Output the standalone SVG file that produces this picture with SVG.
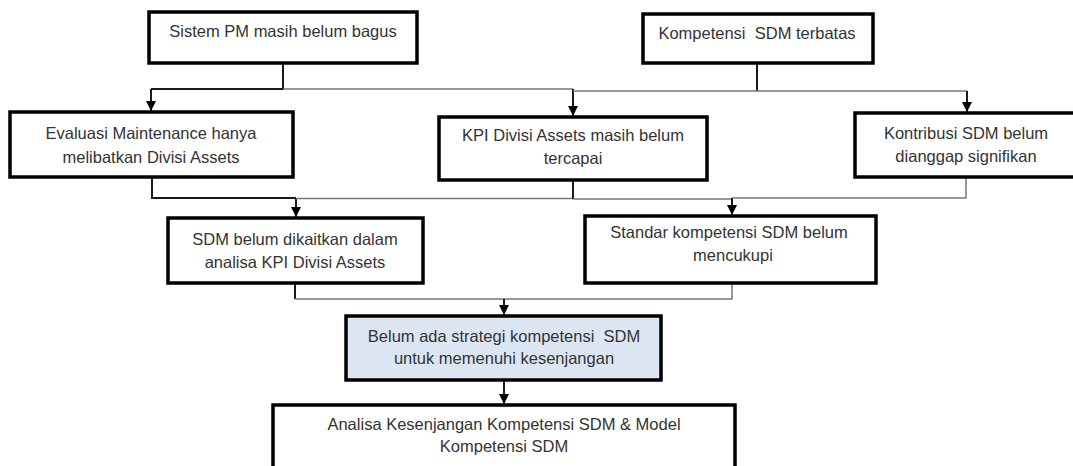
<svg xmlns="http://www.w3.org/2000/svg" width="1073" height="466" viewBox="0 0 1073 466">
<style>
.box{fill:#ffffff;stroke:#000000;stroke-width:3.5}
.hl{fill:#dce6f2}
.t{font-family:"Liberation Sans",Arial,sans-serif;font-size:16.5px;fill:#333333;text-anchor:middle;white-space:pre}
.c{fill:none;stroke:#1a1a1a;stroke-width:2}
.g{fill:none;stroke:#777777;stroke-width:1.5}
</style>
<defs>
<marker id="a" viewBox="0 0 10 10" refX="10" refY="5" markerWidth="11" markerHeight="10" orient="auto" markerUnits="userSpaceOnUse">
<path d="M0,0 L10,5 L0,10 Z" fill="#000"/>
</marker>
</defs>
<rect width="1073" height="466" fill="#ffffff"/>
<g id="connectors">
<path class="c" d="M283,63 V89 H151"/>
<path class="g" d="M283,89 H573"/>
<path class="c" d="M151,89 V111" marker-end="url(#a)"/>
<path class="c" d="M573,89 V116" marker-end="url(#a)"/>
<path class="c" d="M757,63 V91"/>
<path class="g" d="M757,91 H573"/>
<path class="g" d="M757,91 H967"/>
<path class="c" d="M967,91 V112" marker-end="url(#a)"/>
<path class="c" d="M152,177 V198 H296"/>
<path class="c" d="M296,198 V217" marker-end="url(#a)"/>
<path class="g" d="M296,198.5 H573"/>
<path class="c" d="M573,180 V199"/>
<path class="g" d="M573,199 H732"/>
<path class="g" d="M966,177 V198 H732"/>
<path class="c" d="M732,198 V215" marker-end="url(#a)"/>
<path class="c" d="M295,283 V299"/>
<path class="g" d="M295,299 H732 V283"/>
<path class="c" d="M504,299 V315" marker-end="url(#a)"/>
<path class="c" d="M504,380 V404" marker-end="url(#a)"/>
</g>
<g id="n1">
<rect class="box" x="149" y="12" width="268" height="51"/>
<text class="t" x="283" y="37">Sistem PM masih belum bagus</text>
</g>
<g id="n2">
<rect class="box" x="643" y="14" width="230" height="49"/>
<text class="t" x="757" y="39">Kompetensi  SDM terbatas</text>
</g>
<g id="n3">
<rect class="box" x="10" y="112" width="283" height="65"/>
<text class="t" x="151" y="139">Evaluasi Maintenance hanya</text>
<text class="t" x="151" y="163">melibatkan Divisi Assets</text>
</g>
<g id="n4">
<rect class="box" x="439" y="117" width="268" height="63"/>
<text class="t" x="573" y="141">KPI Divisi Assets masih belum</text>
<text class="t" x="573" y="164">tercapai</text>
</g>
<g id="n5">
<rect class="box" x="855" y="113" width="222" height="64"/>
<text class="t" x="966" y="139">Kontribusi SDM belum</text>
<text class="t" x="966" y="162">dianggap signifikan</text>
</g>
<g id="n6">
<rect class="box" x="168" y="218" width="255" height="65"/>
<text class="t" x="295" y="245">SDM belum dikaitkan dalam</text>
<text class="t" x="295" y="268">analisa KPI Divisi Assets</text>
</g>
<g id="n7">
<rect class="box" x="585" y="216" width="291" height="67"/>
<text class="t" x="729" y="238">Standar kompetensi SDM belum</text>
<text class="t" x="733" y="261">mencukupi</text>
</g>
<g id="n8">
<rect class="box hl" x="346" y="316" width="315" height="64"/>
<text class="t" x="504" y="342">Belum ada strategi kompetensi  SDM</text>
<text class="t" x="504" y="364">untuk memenuhi kesenjangan</text>
</g>
<g id="n9">
<rect class="box" x="273" y="405" width="462" height="80"/>
<text class="t" x="504" y="430">Analisa Kesenjangan Kompetensi SDM &amp; Model</text>
<text class="t" x="504" y="452">Kompetensi SDM</text>
</g>
</svg>
